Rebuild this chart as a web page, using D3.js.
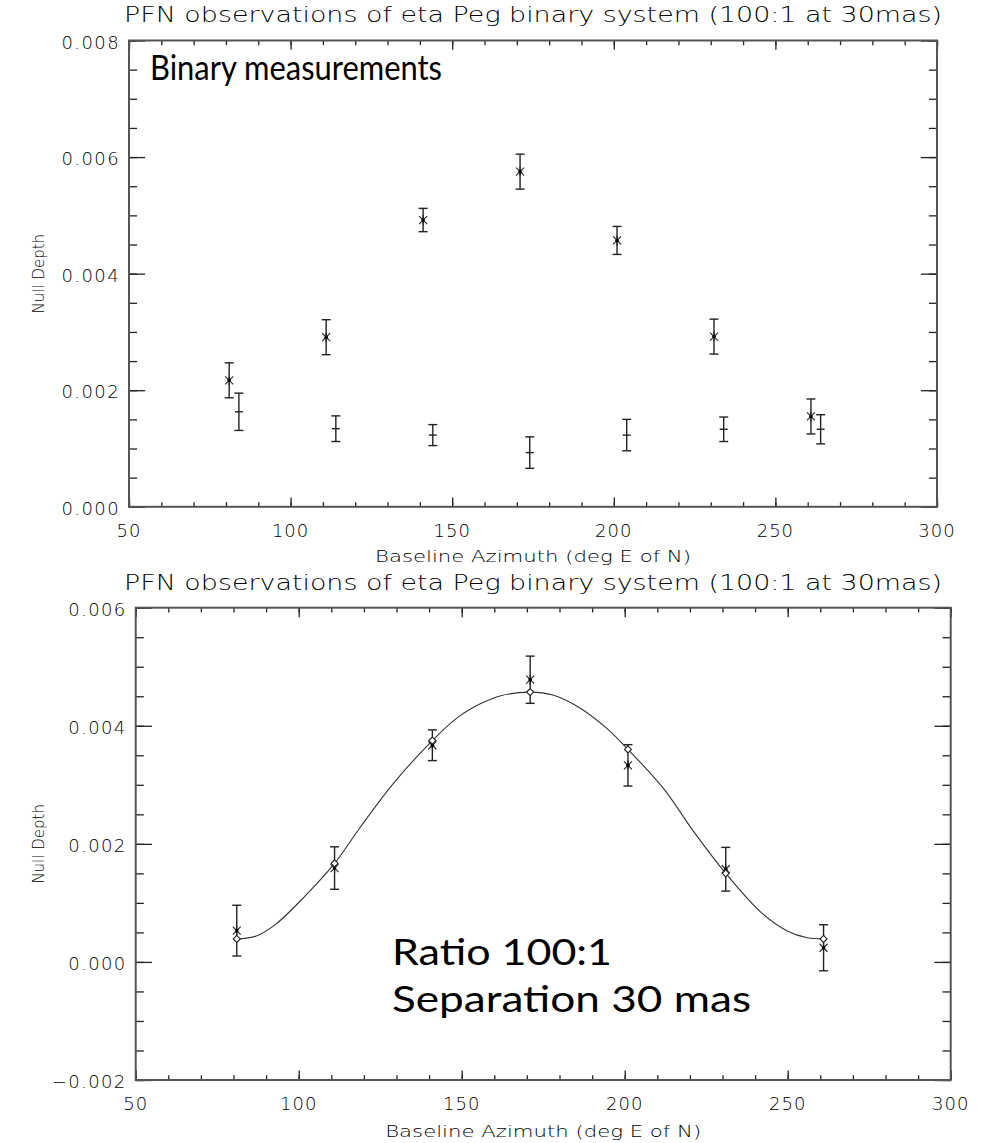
<!DOCTYPE html>
<html>
<head>
<meta charset="utf-8">
<script src="https://cdn.jsdelivr.net/npm/d3@7"></script>
<style>
  html, body { margin: 0; padding: 0; background: #fff; }
  svg { display: block; }
  .idl { font-family: "DejaVu Sans", sans-serif; font-weight: 200; fill: #000; }
  .note { font-family: Lato, "Open Sans", sans-serif; fill: #000; }
</style>
</head>
<body>
<div id="chart"></div>
<script>
// ---- data ----
const titleText = "PFN observations of eta Peg binary system (100:1 at 30mas)"
const xLabel = "Baseline Azimuth (deg E of N)"
const yLabel = "Null Depth"
const xTicks = [50, 100, 150, 200, 250, 300]

// top panel: binary measurements (asterisks) and calibrator (plus)
const binAz = [81, 111, 141, 171, 201, 231, 261]
const binNull = [0.00217, 0.00291, 0.00492, 0.00575, 0.00457, 0.00292, 0.00155]
const binErr = [0.0003, 0.0003, 0.0002, 0.0003, 0.00024, 0.0003, 0.0003]
const calAz = [84, 114, 144, 174, 204, 234, 264]
const calNull = [0.00163, 0.00134, 0.00123, 0.00093, 0.00123, 0.00133, 0.00133]
const calErr = [0.00032, 0.00022, 0.00018, 0.00027, 0.00027, 0.00021, 0.00025]
const topYTicks = [0, 0.002, 0.004, 0.006, 0.008]

// bottom panel: calibrated nulls, model values and model curve
const obsAz = [81, 111, 141, 171, 201, 231, 261]
const obsNull = [0.00053, 0.00159, 0.00367, 0.00478, 0.00333, 0.00157, 0.00024]
const obsErr = [0.00043, 0.00036, 0.00026, 0.0004, 0.00035, 0.00037, 0.00039]
const modelNull = [0.00039, 0.00167, 0.00375, 0.00457, 0.0036, 0.0015, 0.00039]
const curveAz = [81, 87, 93, 102, 111, 119, 129, 141, 149, 156, 162, 171, 178, 186, 194, 201, 212, 221, 231, 242, 250, 256, 261]
const curveNull = [0.00039, 0.00044, 0.00064, 0.00112, 0.00167, 0.00229, 0.00302, 0.00375, 0.00415, 0.00438, 0.00451, 0.00457, 0.00452, 0.00431, 0.00398, 0.0036, 0.00293, 0.00222, 0.0015, 0.00083, 0.00052, 0.00041, 0.00039]
const botYTicks = [-0.002, 0, 0.002, 0.004, 0.006]

const W = 982, H = 1143
const ink = "#222"

const svg = d3.select("#chart").append("svg")
  .attr("width", W).attr("height", H)
  .attr("viewBox", `0 0 ${W} ${H}`)

svg.append("rect").attr("width", W).attr("height", H).attr("fill", "#fff")

// draw an IDL-style boxed frame, returns the scales
function frame(box, yDomain, yTicks, titleY, xLabelY, yLabelX) {
  const x = d3.scaleLinear().domain([50, 300]).range([box.left, box.right])
  const y = d3.scaleLinear().domain(yDomain).range([box.bottom, box.top])
  const g = svg.append("g")

  const xMinor = d3.range(50, 301, 10)
  const yMinor = d3.range(yDomain[0], yDomain[1] + 1e-9, 0.0005)
  const hLen = (box.bottom - box.top) * 0.02   // tick length on x axes
  const wLen = (box.right - box.left) * 0.02   // tick length on y axes

  const axes = [
    [() => d3.axisBottom(x), box.bottom, 0, xMinor, xTicks, hLen],
    [() => d3.axisTop(x), box.top, 0, xMinor, xTicks, hLen],
    [() => d3.axisLeft(y), 0, box.left, yMinor, yTicks, wLen],
    [() => d3.axisRight(y), 0, box.right, yMinor, yTicks, wLen]
  ]
  axes.forEach(([mk, ty, tx, minor, major, len]) => {
    g.append("g").attr("transform", `translate(${tx},${ty})`)
      .call(mk().tickValues(minor).tickSize(-len / 2).tickFormat(""))
      .call(s => s.select(".domain").remove())
    g.append("g").attr("transform", `translate(${tx},${ty})`)
      .call(mk().tickValues(major).tickSize(-len).tickFormat(""))
      .call(s => s.select(".domain").remove())
  })
  g.selectAll(".tick line").attr("stroke", ink).attr("stroke-width", 1.3)

  g.append("rect")
    .attr("x", box.left).attr("y", box.top)
    .attr("width", box.right - box.left).attr("height", box.bottom - box.top)
    .attr("fill", "none").attr("stroke", "#555").attr("stroke-width", 2)

  // tick labels
  g.append("g").selectAll("text").data(xTicks).join("text")
    .attr("class", "idl")
    .attr("x", d => x(d)).attr("y", box.bottom + 30)
    .attr("text-anchor", "middle").attr("font-size", 18)
    .attr("letter-spacing", 1)
    .text(d => d)
  const fmt = d3.format(".3f")
  g.append("g").selectAll("text").data(yTicks).join("text")
    .attr("class", "idl")
    .attr("x", box.left - 9).attr("y", d => y(d) + 8)
    .attr("text-anchor", "end").attr("font-size", 18)
    .attr("letter-spacing", 1.4)
    .text(d => fmt(d))

  g.append("text").attr("class", "idl")
    .attr("x", 533).attr("y", titleY)
    .attr("text-anchor", "middle").attr("font-size", 22)
    .attr("textLength", 818).attr("lengthAdjust", "spacingAndGlyphs")
    .text(titleText)
  g.append("text").attr("class", "idl")
    .attr("x", (box.left + box.right) / 2).attr("y", xLabelY)
    .attr("text-anchor", "middle").attr("font-size", 16)
    .attr("textLength", 316).attr("lengthAdjust", "spacingAndGlyphs")
    .text(xLabel)
  g.append("text").attr("class", "idl")
    .attr("transform", `translate(${yLabelX},${(box.top + box.bottom) / 2}) rotate(-90)`)
    .attr("text-anchor", "middle").attr("font-size", 15)
    .text(yLabel)

  return { x, y }
}

function errorBars(sc, az, val, err, capHalf) {
  const g = svg.append("g").attr("stroke", ink).attr("stroke-width", 1.4).attr("fill", "none")
  az.forEach((a, i) => {
    const cx = sc.x(a), y1 = sc.y(val[i] + err[i]), y2 = sc.y(val[i] - err[i])
    g.append("line").attr("x1", cx).attr("x2", cx).attr("y1", y1).attr("y2", y2)
    g.append("line").attr("x1", cx - capHalf).attr("x2", cx + capHalf).attr("y1", y1).attr("y2", y1)
    g.append("line").attr("x1", cx - capHalf).attr("x2", cx + capHalf).attr("y1", y2).attr("y2", y2)
  })
}

function asterisks(sc, az, val) {
  const g = svg.append("g").attr("stroke", ink).attr("stroke-width", 1.1)
  const r = 5
  az.forEach((a, i) => {
    const cx = sc.x(a), cy = sc.y(val[i])
    g.append("line").attr("x1", cx - r * 0.8).attr("x2", cx + r * 0.8).attr("y1", cy - r * 0.8).attr("y2", cy + r * 0.8)
    g.append("line").attr("x1", cx - r * 0.8).attr("x2", cx + r * 0.8).attr("y1", cy + r * 0.8).attr("y2", cy - r * 0.8)
    g.append("line").attr("x1", cx).attr("x2", cx).attr("y1", cy - r).attr("y2", cy + r)
    g.append("circle").attr("cx", cx).attr("cy", cy).attr("r", 1.8).attr("fill", "#000").attr("stroke", "none")
  })
}

// ---- top panel ----
const topSc = frame({ left: 129, right: 937, top: 40.5, bottom: 506.8 },
  [0, 0.008], topYTicks, 22, 562, 44)

errorBars(topSc, binAz, binNull, binErr, 4.5)
asterisks(topSc, binAz, binNull)
errorBars(topSc, calAz, calNull, calErr, 4.5)
svg.append("g").attr("stroke", ink).attr("stroke-width", 1.4)
  .selectAll("line").data(calAz).join("line")
  .attr("x1", d => topSc.x(d) - 4).attr("x2", d => topSc.x(d) + 4)
  .attr("y1", (d, i) => topSc.y(calNull[i])).attr("y2", (d, i) => topSc.y(calNull[i]))

svg.append("text").attr("class", "note")
  .attr("x", 150).attr("y", 80).attr("font-size", 34)
  .attr("textLength", 292).attr("lengthAdjust", "spacingAndGlyphs")
  .text("Binary measurements")

// ---- bottom panel ----
const botSc = frame({ left: 135.7, right: 950.7, top: 607.7, bottom: 1080 },
  [-0.002, 0.006], botYTicks, 590, 1137, 44)

svg.append("path")
  .datum(curveAz.map((a, i) => [a, curveNull[i]]))
  .attr("fill", "none").attr("stroke", "#333").attr("stroke-width", 1.1)
  .attr("d", d3.line().x(d => botSc.x(d[0])).y(d => botSc.y(d[1])).curve(d3.curveCatmullRom.alpha(0.5)))

errorBars(botSc, obsAz, obsNull, obsErr, 4.5)
asterisks(botSc, obsAz, obsNull)
svg.append("g").selectAll("path").data(obsAz).join("path")
  .attr("fill", "#fff").attr("stroke", ink).attr("stroke-width", 1.1)
  .attr("d", (d, i) => {
    const cx = botSc.x(d), cy = botSc.y(modelNull[i]), r = 3.5
    return `M${cx},${cy - r}L${cx + r},${cy}L${cx},${cy + r}L${cx - r},${cy}Z`
  })

svg.append("text").attr("class", "note")
  .attr("x", 392).attr("y", 965).attr("font-size", 36)
  .attr("textLength", 220).attr("lengthAdjust", "spacingAndGlyphs")
  .text("Ratio 100:1")
svg.append("text").attr("class", "note")
  .attr("x", 392).attr("y", 1012).attr("font-size", 36)
  .attr("textLength", 359).attr("lengthAdjust", "spacingAndGlyphs")
  .text("Separation 30 mas")
</script>
</body>
</html>
